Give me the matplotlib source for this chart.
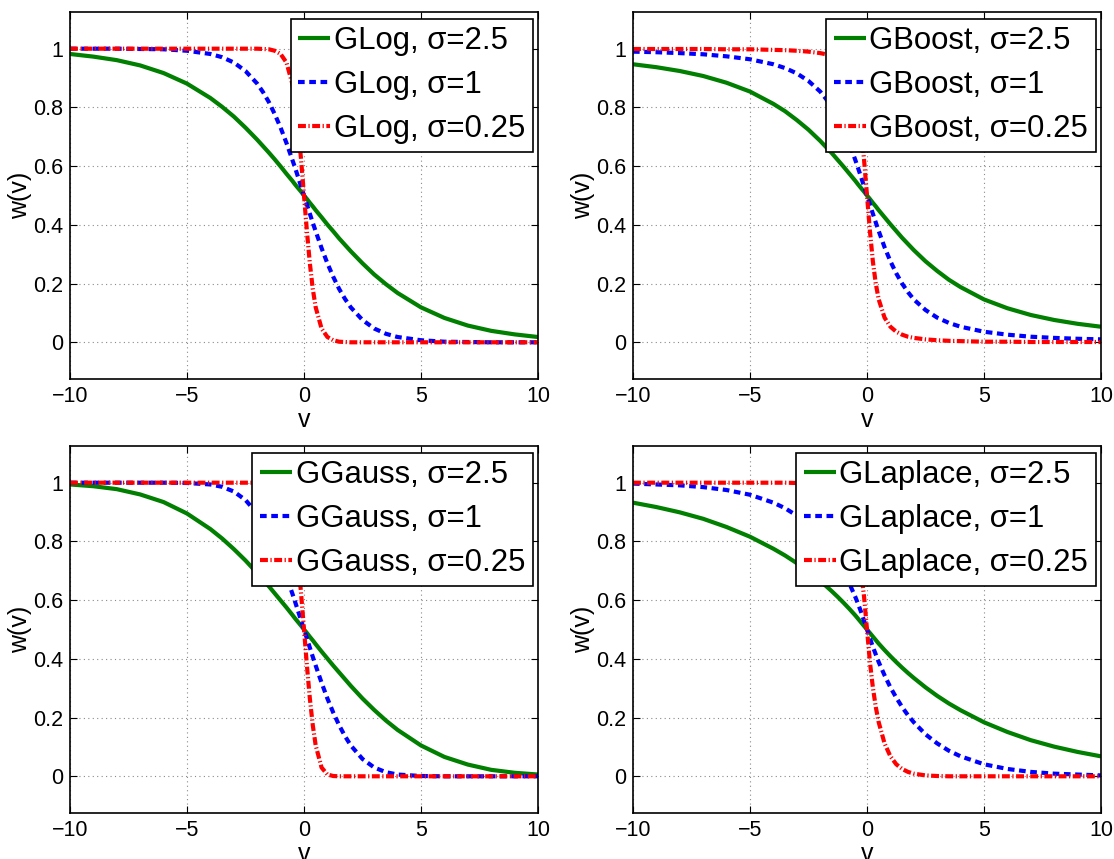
import matplotlib
matplotlib.use('Agg')
import matplotlib.pyplot as plt

# ---------------- data ----------------
v = [-10, -9, -8, -7, -6, -5, -4, -3.5, -3, -2.5, -2, -1.75, -1.5, -1.25, -1,
     -0.75, -0.5, -0.375, -0.25, -0.125, 0, 0.125, 0.25, 0.375, 0.5, 0.75, 1,
     1.25, 1.5, 1.75, 2, 2.5, 3, 3.5, 4, 5, 6, 7, 8, 9, 10]

glog_s25 = [0.982, 0.973, 0.961, 0.943, 0.917, 0.881, 0.832, 0.802, 0.769, 0.731, 0.690,
            0.668, 0.646, 0.623, 0.599, 0.574, 0.550, 0.537, 0.525, 0.513, 0.500, 0.488,
            0.475, 0.463, 0.450, 0.426, 0.401, 0.378, 0.354, 0.332, 0.310, 0.269, 0.231,
            0.198, 0.168, 0.119, 0.083, 0.057, 0.039, 0.027, 0.018]
glog_s1 = [1.000, 1.000, 1.000, 0.999, 0.998, 0.993, 0.982, 0.971, 0.953, 0.924, 0.881,
           0.852, 0.818, 0.777, 0.731, 0.679, 0.622, 0.593, 0.562, 0.531, 0.500, 0.469,
           0.438, 0.407, 0.378, 0.321, 0.269, 0.223, 0.182, 0.148, 0.119, 0.076, 0.047,
           0.029, 0.018, 0.007, 0.002, 0.001, 0.000, 0.000, 0.000]
glog_s025 = [1.000, 1.000, 1.000, 1.000, 1.000, 1.000, 1.000, 1.000, 1.000, 1.000, 1.000,
             0.999, 0.998, 0.993, 0.982, 0.953, 0.881, 0.818, 0.731, 0.622, 0.500, 0.378,
             0.269, 0.182, 0.119, 0.047, 0.018, 0.007, 0.002, 0.001, 0.000, 0.000, 0.000,
             0.000, 0.000, 0.000, 0.000, 0.000, 0.000, 0.000, 0.000]

gboost_s25 = [0.947, 0.937, 0.924, 0.907, 0.884, 0.854, 0.812, 0.787, 0.757, 0.724, 0.686,
              0.665, 0.644, 0.621, 0.598, 0.574, 0.550, 0.537, 0.525, 0.513, 0.500, 0.488,
              0.475, 0.463, 0.450, 0.426, 0.402, 0.379, 0.356, 0.335, 0.314, 0.276, 0.243,
              0.213, 0.188, 0.146, 0.116, 0.093, 0.076, 0.063, 0.053]
gboost_s1 = [0.990, 0.988, 0.985, 0.981, 0.974, 0.964, 0.947, 0.934, 0.916, 0.890, 0.854,
             0.829, 0.800, 0.765, 0.724, 0.676, 0.621, 0.592, 0.562, 0.531, 0.500, 0.469,
             0.438, 0.408, 0.379, 0.324, 0.276, 0.235, 0.200, 0.171, 0.146, 0.110, 0.084,
             0.066, 0.053, 0.036, 0.026, 0.019, 0.015, 0.012, 0.010]
gboost_s025 = [0.999, 0.999, 0.999, 0.999, 0.998, 0.998, 0.996, 0.995, 0.993, 0.990, 0.985,
               0.981, 0.974, 0.964, 0.947, 0.916, 0.854, 0.800, 0.724, 0.621, 0.500, 0.379,
               0.276, 0.200, 0.146, 0.084, 0.053, 0.036, 0.026, 0.019, 0.015, 0.010, 0.007,
               0.005, 0.004, 0.002, 0.002, 0.001, 0.001, 0.001, 0.001]

ggauss_s25 = [0.994, 0.988, 0.978, 0.960, 0.934, 0.895, 0.842, 0.810, 0.774, 0.735, 0.692,
              0.670, 0.647, 0.623, 0.599, 0.575, 0.550, 0.537, 0.525, 0.513, 0.500, 0.488,
              0.475, 0.463, 0.450, 0.425, 0.401, 0.377, 0.354, 0.331, 0.308, 0.265, 0.226,
              0.190, 0.158, 0.105, 0.066, 0.040, 0.022, 0.012, 0.006]
ggauss_s1 = [1.000, 1.000, 1.000, 1.000, 1.000, 0.999, 0.994, 0.986, 0.970, 0.941, 0.895,
             0.863, 0.826, 0.783, 0.735, 0.681, 0.623, 0.593, 0.562, 0.531, 0.500, 0.469,
             0.438, 0.407, 0.377, 0.319, 0.265, 0.217, 0.174, 0.137, 0.105, 0.059, 0.030,
             0.014, 0.006, 0.001, 0.000, 0.000, 0.000, 0.000, 0.000]
ggauss_s025 = [1.000, 1.000, 1.000, 1.000, 1.000, 1.000, 1.000, 1.000, 1.000, 1.000, 1.000,
               1.000, 1.000, 0.999, 0.994, 0.970, 0.895, 0.826, 0.735, 0.623, 0.500, 0.377,
               0.265, 0.174, 0.105, 0.030, 0.006, 0.001, 0.000, 0.000, 0.000, 0.000, 0.000,
               0.000, 0.000, 0.000, 0.000, 0.000, 0.000, 0.000, 0.000]

glaplace_s25 = [0.932, 0.917, 0.899, 0.877, 0.849, 0.816, 0.775, 0.752, 0.726, 0.697, 0.665,
                0.648, 0.630, 0.611, 0.591, 0.570, 0.548, 0.536, 0.524, 0.512, 0.500, 0.488,
                0.476, 0.464, 0.452, 0.430, 0.409, 0.389, 0.370, 0.352, 0.335, 0.303, 0.274,
                0.248, 0.225, 0.184, 0.151, 0.123, 0.101, 0.083, 0.068]
glaplace_s1 = [0.997, 0.994, 0.991, 0.985, 0.975, 0.959, 0.932, 0.913, 0.888, 0.857, 0.816,
               0.792, 0.764, 0.732, 0.697, 0.656, 0.611, 0.586, 0.559, 0.530, 0.500, 0.470,
               0.441, 0.415, 0.389, 0.344, 0.303, 0.268, 0.236, 0.208, 0.184, 0.143, 0.112,
               0.087, 0.068, 0.041, 0.025, 0.015, 0.009, 0.006, 0.003]
glaplace_s025 = [1.000, 1.000, 1.000, 1.000, 1.000, 1.000, 1.000, 1.000, 0.999, 0.997, 0.991,
                 0.985, 0.975, 0.959, 0.932, 0.888, 0.816, 0.764, 0.697, 0.611, 0.500, 0.389,
                 0.303, 0.236, 0.184, 0.112, 0.068, 0.041, 0.025, 0.015, 0.009, 0.003, 0.001,
                 0.000, 0.000, 0.000, 0.000, 0.000, 0.000, 0.000, 0.000]

families = ['GLog', 'GBoost', 'GGauss', 'GLaplace']
sigma_labels = ['2.5', '1', '0.25']
series = {
    'GLog': [glog_s25, glog_s1, glog_s025],
    'GBoost': [gboost_s25, gboost_s1, gboost_s025],
    'GGauss': [ggauss_s25, ggauss_s1, ggauss_s025],
    'GLaplace': [glaplace_s25, glaplace_s1, glaplace_s025],
}

xticks = [-10, -5, 0, 5, 10]
xticklabels = ['\u221210', '\u22125', '0', '5', '10']
yticks = [0, 0.2, 0.4, 0.6, 0.8, 1]
yticklabels = ['0', '0.2', '0.4', '0.6', '0.8', '1']

# ---------------- styling ----------------
plt.rcParams['font.family'] = ['Liberation Sans', 'DejaVu Sans']

W, H = 1114, 859
fig = plt.figure(figsize=(W / 100, H / 100), dpi=100)

colors = ['#007f00', '#0000ff', '#ff0000']
lw = 3.0
dash_styles = [None, (1.6, 1.1), (1.9, 0.6, 0.3, 0.6)]

axes_px = [  # left, top, right, bottom in pixels
    (70, 12, 538, 379),
    (633, 12, 1101, 379),
    (70, 446, 538, 813),
    (633, 446, 1101, 813),
]

for fam, (l, t, r, b) in zip(families, axes_px):
    ax = fig.add_axes([l / W, 1 - b / H, (r - l) / W, (b - t) / H])
    for ys, c, ds, s in zip(series[fam], colors, dash_styles, sigma_labels):
        line, = ax.plot(v, ys, color=c, lw=lw, label=f'{fam}, \u03c3={s}',
                        solid_capstyle='butt', dash_capstyle='butt',
                        solid_joinstyle='round')
        if ds is not None:
            line.set_dashes(ds)
    ax.set_xlim(-10, 10)
    ax.set_ylim(-0.125, 1.125)
    ax.set_xticks(xticks)
    ax.set_xticklabels(xticklabels)
    ax.set_yticks(yticks)
    ax.set_yticklabels(yticklabels)
    ax.tick_params(direction='in', length=5, width=0.8, labelsize=15.5,
                   top=True, right=True, pad=5)
    ax.grid(True, color='#8a8a8a', linestyle=(0, (1, 3)), linewidth=0.8)
    for sp in ax.spines.values():
        sp.set_linewidth(1.2)
    ax.set_xlabel('v', fontsize=18, labelpad=1)
    ax.set_ylabel('w(v)', fontsize=18, labelpad=1)
    leg = ax.legend(loc='upper right', bbox_to_anchor=(0.989, 0.982),
                    borderaxespad=0, fontsize=22.4, fancybox=False, framealpha=1,
                    edgecolor='black', handlelength=1.03, handletextpad=0.11,
                    labelspacing=0.45, borderpad=0.25)
    leg.get_frame().set_linewidth(1.2)

fig.savefig('out.png', dpi=100)
